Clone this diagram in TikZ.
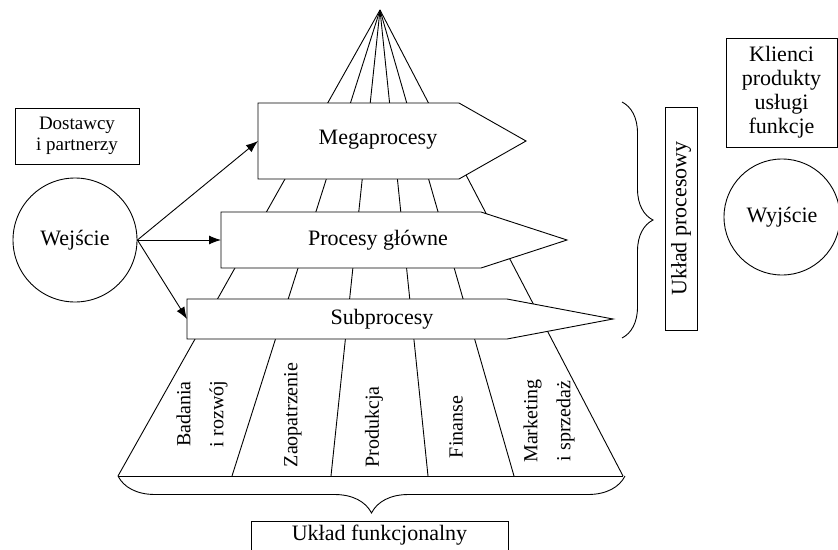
\documentclass[tikz,border=0pt]{standalone}
\usepackage{fontspec}
\setmainfont{Liberation Serif}
\usetikzlibrary{
	arrows.meta,
	calc,
	decorations.pathreplacing,
	shapes,
	positioning
}

\begin{document}
\begin{tikzpicture}[x = 1pt, y = -1pt, line width = 0.9pt,
	every node/.style = {font = \fontsize{22}{25}\selectfont},
	box/.style = {draw, fill = white, inner sep = 0pt, align = center},
	ring/.style = {draw, circle, inner sep = 0pt},
	proc/.style = {draw, fill = white, line join = miter},
	feed/.style = {-{Latex[length = 12pt, width = 9pt]}},
	funclabel/.style = {rotate = 90, align = center, font = \fontsize{20}{33}\selectfont}]
	\useasboundingbox (0,0) rectangle (838,549);
	\clip (0,0) rectangle (838,549);
	
	% fan of the pyramid
	\coordinate (apex) at (380,10);
	\foreach \x [count = \i] in {118,232,331,428,514,623}
	{
		\coordinate (b\i) at (\x,476);
		\draw (apex) -- (b\i);
	}
	\draw (b1) -- (b6);
	
	% process levels
	\draw[proc] (258,103) -- (459,103) -- (526,141) -- (459,179) -- (258,179) -- cycle;
	\draw[proc] (221,212) -- (481,212) -- (567,240) -- (481,268) -- (221,268) -- cycle;
	\draw[proc] (187,299) -- (507,299) -- (613,319) -- (507,339) -- (187,339) -- cycle;
	\coordinate (mega-in) at (258,141);
	\coordinate (main-in) at (221,240);
	\coordinate (sub-in) at (187,319);
	\node (mega) at (378,140) {Megaprocesy};
	\node (main) at (378,240) {Procesy główne};
	\node (sub) at (382,319) {Subprocesy};
	
	% functions
	\node (rd) at (202,414) [funclabel] {Badania\\i rozwój};
	\node (supply) at (293,415) [funclabel] {Zaopatrzenie};
	\node (prod) at (374,427) [funclabel] {Produkcja};
	\node (fin) at (456,427) [funclabel] {Finanse};
	\node (mkt) at (549,421) [funclabel] {Marketing\\i sprzedaż};
	
	% input and output
	\node (in) at (75,240) [ring, minimum size = 124pt] {Wejście};
	\node (out) at (782,217) [ring, minimum size = 116pt] {Wyjście};
	\node (supp) at (77,136) [box, minimum width = 124pt, minimum height = 56pt,
		font = \fontsize{19}{21}\selectfont] {Dostawcy\\i partnerzy};
	\node (cust) at (781.5,92.5) [box, minimum width = 111pt, minimum height = 109pt,
		font = \fontsize{22}{24}\selectfont] {Klienci\\produkty\\usługi\\funkcje};
	
	\draw[feed] (in.east) -- (mega-in);
	\draw[feed] (in.east) -- (main-in);
	\draw[feed] (in.east) -- (sub-in);
	
	% the two layouts
	\draw [decorate, decoration = {brace, amplitude = 31pt}]
	(622,102) -- (622,338);
	\node (proc-sys) at (681,218.5) [box, rotate = 90, minimum width = 223pt,
		minimum height = 32pt] {Układ procesowy};
	
	\draw [decorate, decoration = {brace, amplitude = 37pt}]
	(625,476) -- (118,476);
	\node (func-sys) at (379.5,521) [box, anchor = north, minimum width = 257pt,
		inner ysep = 4pt, text depth = 30pt] {Układ funkcjonalny};
	
\end{tikzpicture}
\end{document}
